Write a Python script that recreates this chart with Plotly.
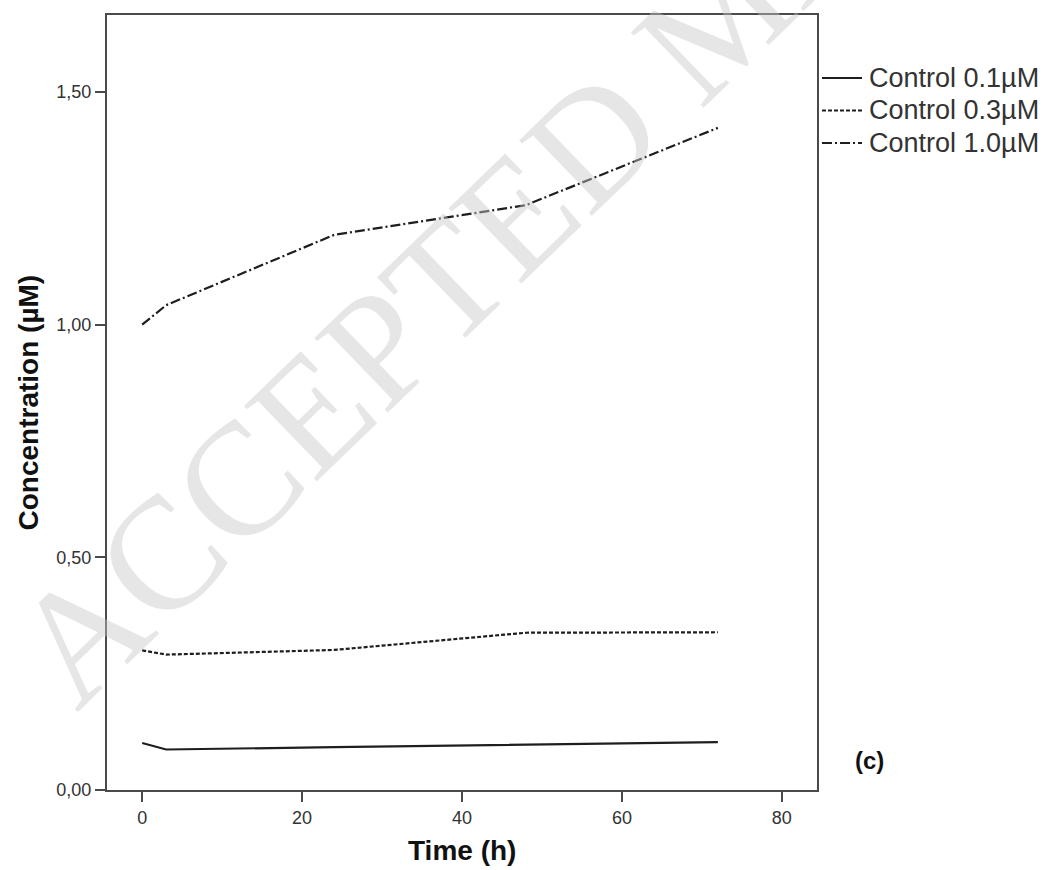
import plotly.graph_objects as go

time_h = [0, 3, 24, 48, 72]
series_names = ["Control 0.1µM", "Control 0.3µM", "Control 1.0µM"]
conc_01 = [0.101, 0.087, 0.092, 0.097, 0.103]
conc_03 = [0.300, 0.291, 0.301, 0.338, 0.339]
conc_10 = [1.000, 1.042, 1.193, 1.257, 1.423]
y_ticks = [0.0, 0.5, 1.0, 1.5]
x_ticks = [0, 20, 40, 60, 80]

dashes = ["solid", "4px,2px", "10px,3px,2px,3px"]
values = [conc_01, conc_03, conc_10]
line_color = "#1e1e1e"

# layout geometry (pixels)
W, H = 1047, 870
L, R, T, B = 107, 230, 15, 80
PW, PH = W - L - R, H - T - B


def px_x(px):
    return (px - L) / PW


def px_y(py):
    return (H - B - py) / PH


fig = go.Figure()
for i, (name, vals) in enumerate(zip(series_names, values)):
    fig.add_trace(go.Scatter(
        x=time_h, y=vals, mode="lines", name=name, showlegend=False,
        line=dict(color=line_color, width=2.2, dash=dashes[i]),
    ))

font_family = "Liberation Sans, Arial, sans-serif"

shapes = []
annotations = [
    dict(text="ACCEPTED MANUSCRIPT", xref="paper", yref="paper", x=0.866, y=1.0,
         xanchor="center", yanchor="middle", showarrow=False, textangle=-44,
         font=dict(size=160, color="rgba(200,200,200,0.45)", family="Liberation Serif, serif")),
]
legend_rows = [78, 110.5, 143]
for i, name in enumerate(series_names):
    yy = px_y(legend_rows[i])
    shapes.append(dict(type="line", xref="paper", yref="paper",
                       x0=px_x(822), x1=px_x(862), y0=yy, y1=yy,
                       line=dict(color=line_color, width=2, dash=dashes[i])))
    annotations.append(dict(text=name, xref="paper", yref="paper",
                            x=px_x(867), y=yy, xanchor="left", yanchor="middle",
                            showarrow=False,
                            font=dict(size=27, color="#333333", family=font_family)))

annotations += [
    dict(text="<b>(c)</b>", xref="paper", yref="paper", x=px_x(853), y=px_y(760),
         xanchor="left", yanchor="middle", showarrow=False,
         font=dict(size=24, color="#111111", family=font_family)),
    dict(text="<b>Time (h)</b>", xref="paper", yref="paper", x=0.5, y=px_y(850),
         xanchor="center", yanchor="middle", showarrow=False,
         font=dict(size=28, color="#111111", family=font_family)),
    dict(text="<b>Concentration (µM)</b>", xref="paper", yref="paper", x=px_x(28), y=0.5,
         xanchor="center", yanchor="middle", showarrow=False, textangle=-90,
         font=dict(size=28, color="#111111", family=font_family)),
]

fig.update_layout(
    width=W, height=H,
    margin=dict(l=L, r=R, t=T, b=B),
    paper_bgcolor="white", plot_bgcolor="white",
    separators=",.",
    font=dict(family=font_family, color="#333333", size=18),
    showlegend=False,
    xaxis=dict(
        range=[-4.4, 84.4], tickvals=x_ticks, showgrid=False, zeroline=False,
        showline=True, linecolor="#4a4a4a", linewidth=2, mirror=True,
        ticks="outside", ticklen=10, tickwidth=2, tickcolor="#4a4a4a",
        tickfont=dict(size=18, color="#333333"),
    ),
    yaxis=dict(
        range=[0, 1.6656], tickvals=y_ticks, tickformat=".2f", showgrid=False, zeroline=False,
        showline=True, linecolor="#4a4a4a", linewidth=2, mirror=True,
        ticks="outside", ticklen=10, tickwidth=2, tickcolor="#4a4a4a",
        tickfont=dict(size=18, color="#333333"),
    ),
    shapes=shapes,
    annotations=annotations,
)

fig.write_html("out.html")
